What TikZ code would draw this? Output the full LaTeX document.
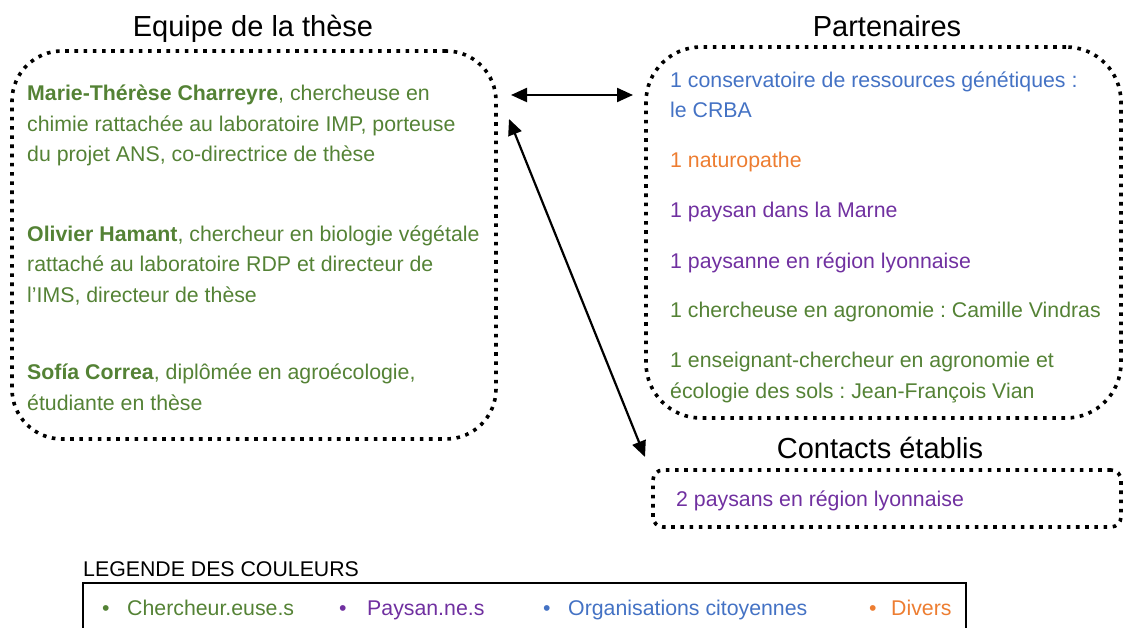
\documentclass[tikz,border=0pt]{standalone}
\usepackage{fontspec}
\setmainfont{Liberation Sans}
\usepackage{xcolor}
\usepackage{tikz}
\usetikzlibrary{arrows.meta}
\definecolor{resgreen}{HTML}{548235}
\definecolor{orgblue}{HTML}{4472C4}
\definecolor{divorange}{HTML}{ED7D31}
\definecolor{paypurple}{HTML}{7030A0}
\frenchspacing

\tikzset{
  txt/.style={font=\fontsize{21.3}{30.5}\selectfont, align=left, inner sep=0pt, anchor=base west},
  heading/.style={font=\fontsize{29}{34}\selectfont, inner sep=0pt, anchor=base},
  dotbox/.style={draw, line width=3.6pt, dash pattern=on 3.6pt off 5.6pt, inner sep=0pt},
  link/.style={line width=2.2pt, {Triangle[length=16pt,width=14pt]}-{Triangle[length=16pt,width=14pt]}}
}

\begin{document}
\begin{tikzpicture}[x=1pt, y=-1pt]
    \useasboundingbox (0,0) rectangle (1126,628);

    % boxes
    \node[dotbox, rounded corners=50pt, minimum width=484pt, minimum height=388pt] (team) at (254,245) { };
    \node[dotbox, rounded corners=55pt, minimum width=475pt, minimum height=371pt] (part) at (883.5,232.5) { };
    \node[dotbox, rounded corners=10pt, minimum width=468pt, minimum height=57pt] (cont) at (887,498.5) { };

    % titles
    \node[heading] (teamT) at (253,37) {Equipe de la thèse};
    \node[heading] (partT) at (887,37) {Partenaires};
    \node[heading] (contT) at (880,458) {Contacts établis};

    % team (base = last line)
    \node[txt, text=resgreen] (mtc) at (27,162)
      {\textbf{Marie-Thérèse Charreyre}, chercheuse en\\chimie rattachée au laboratoire IMP, porteuse\\du projet ANS, co-directrice de thèse};
    \node[txt, text=resgreen] (oh) at (27,302)
      {\textbf{Olivier Hamant}, chercheur en biologie végétale\\rattaché au laboratoire RDP et directeur de\\l’IMS, directeur de thèse};
    \node[txt, text=resgreen] (sc) at (27,410)
      {\textbf{Sofía Correa}, diplômée en agroécologie,\\étudiante en thèse};

    % partners
    \node[txt, text=orgblue] (crba) at (670,118) {1 conservatoire de ressources génétiques :\\le CRBA};
    \node[txt, text=divorange] (natu) at (670,168) {1 naturopathe};
    \node[txt, text=paypurple] (marne) at (670,218) {1 paysan dans la Marne};
    \node[txt, text=paypurple] (lyon) at (670,268) {1 paysanne en région lyonnaise};
    \node[txt, text=resgreen] (cv) at (670,317) {1 chercheuse en agronomie : Camille Vindras};
    \node[txt, text=resgreen] (jfv) at (670,398) {1 enseignant-chercheur en agronomie et\\écologie des sols : Jean-François Vian};

    % contacts
    \node[txt, text=paypurple] (deux) at (676,506) {2 paysans en région lyonnaise};

    % arrows
    \coordinate (teamE) at (511,95);
    \coordinate (partW) at (633,95);
    \coordinate (teamSE) at (509,119);
    \coordinate (contNW) at (645,457);
    \draw[link] (teamE) -- (partW);
    \draw[link] (teamSE) -- (contNW);

    % legend
    \node[txt] (legT) at (83,576) {LEGENDE DES COULEURS};
    \node[draw, line width=1.6pt, minimum width=883pt, minimum height=50pt, inner sep=0pt] (leg) at (524.5,608) { };
    \node[txt, text=resgreen] (b1) at (102,615) {\textbullet};
    \node[txt, text=resgreen] (l1) at (127,615) {Chercheur.euse.s};
    \node[txt, text=paypurple] (b2) at (339,615) {\textbullet};
    \node[txt, text=paypurple] (l2) at (367,615) {Paysan.ne.s};
    \node[txt, text=orgblue] (b3) at (543,615) {\textbullet};
    \node[txt, text=orgblue] (l3) at (568,615) {Organisations citoyennes};
    \node[txt, text=divorange] (b4) at (869,615) {\textbullet};
    \node[txt, text=divorange] (l4) at (891,615) {Divers};
\end{tikzpicture}
\end{document}
